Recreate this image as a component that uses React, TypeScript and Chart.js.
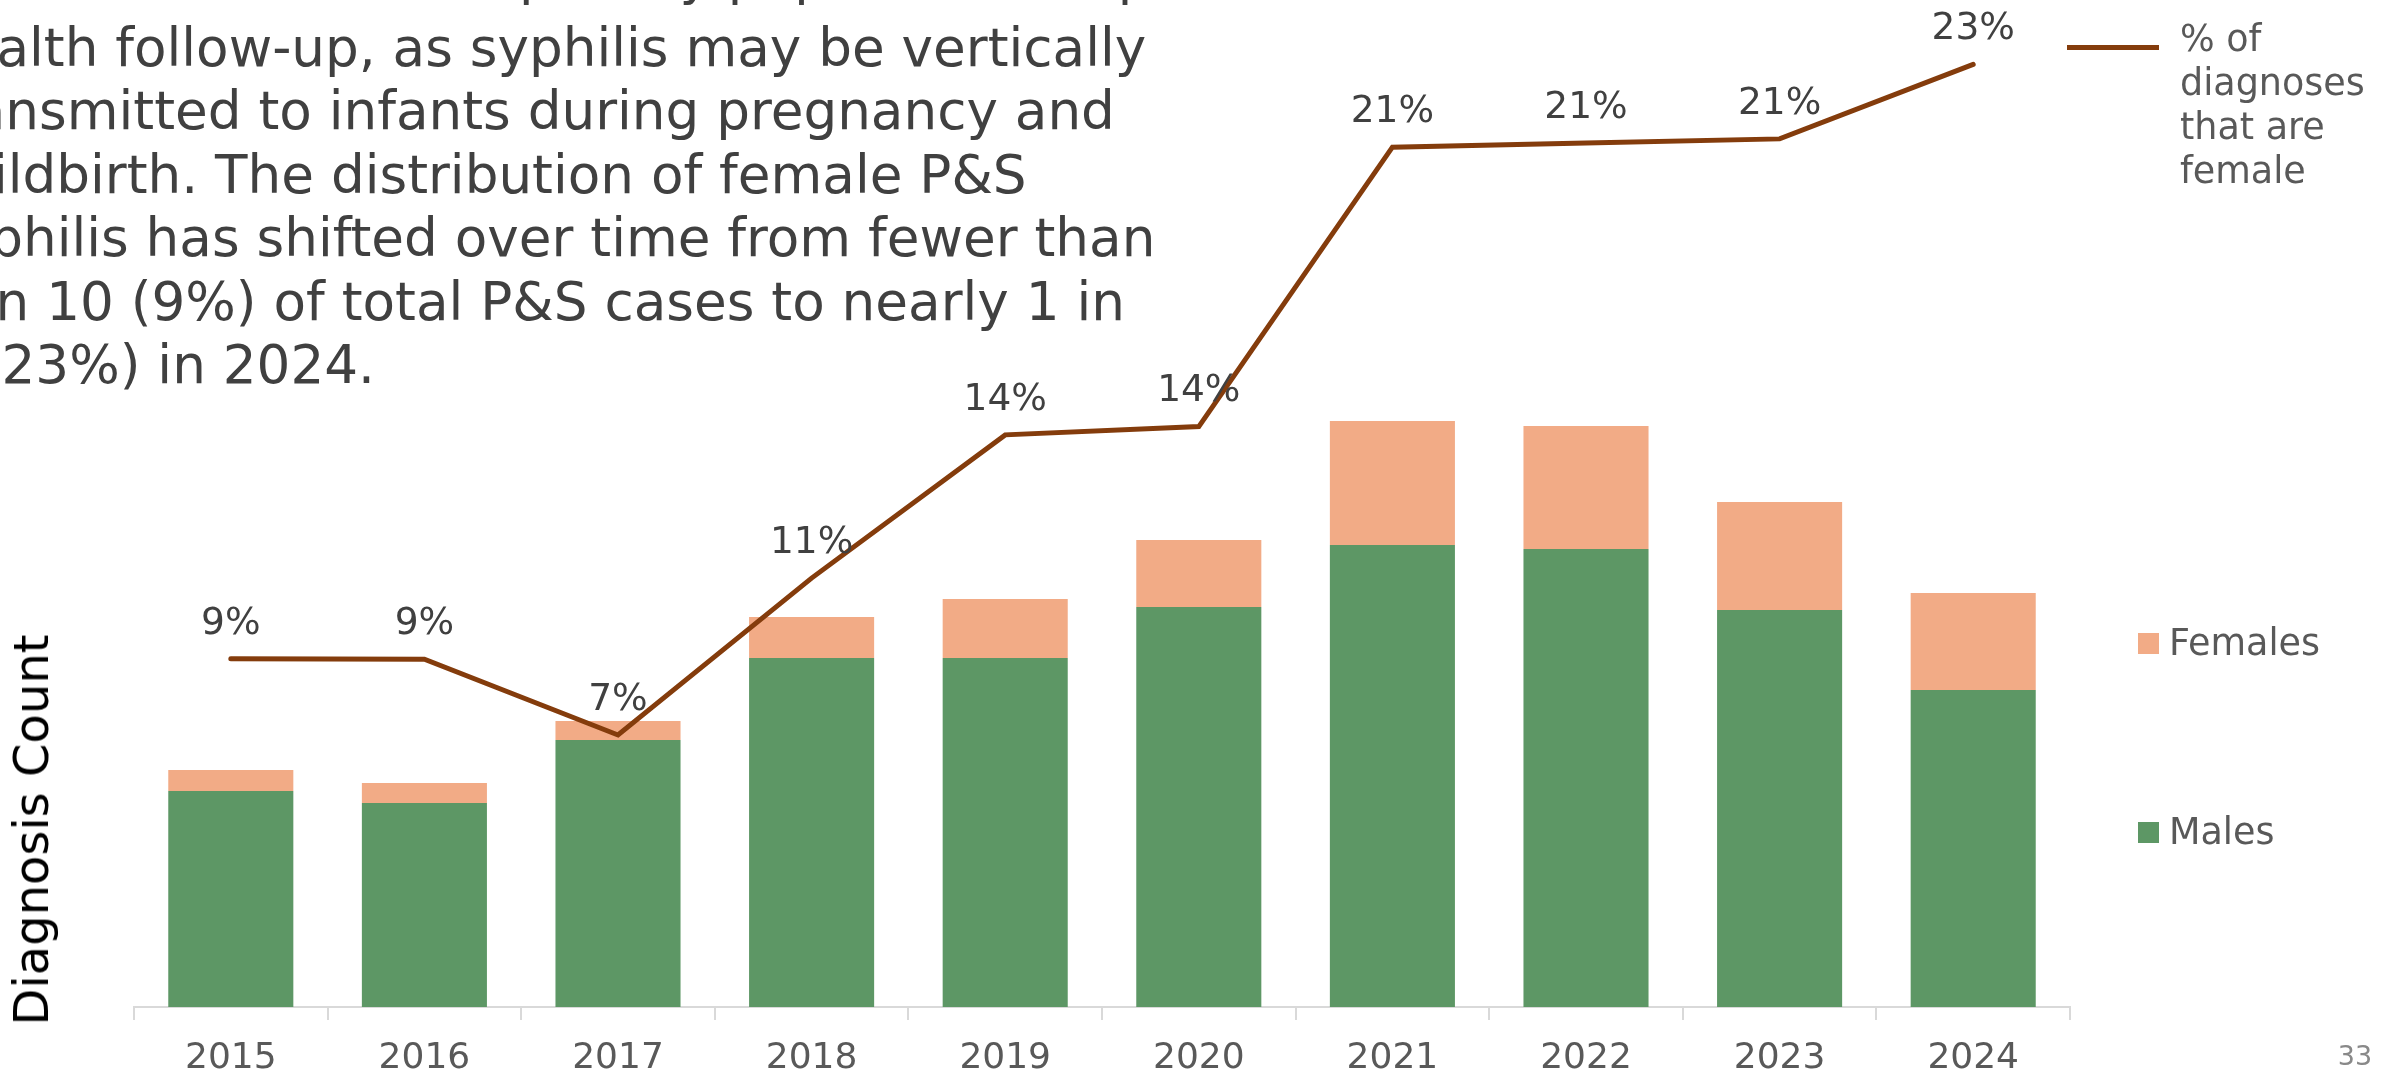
import React, { useEffect, useRef } from "react";
import { Chart, registerables } from "chart.js";

Chart.register(...registerables);

// ---- Data ----
const years = ["2015", "2016", "2017", "2018", "2019", "2020", "2021", "2022", "2023", "2024"];
const males = [216, 204, 267, 349, 349, 400, 462, 458, 397, 317];
const females = [21, 20, 19, 41, 59, 67, 124, 123, 108, 97];
const femalePct = [8.84, 8.83, 7.0, 10.79, 14.25, 14.45, 21.2, 21.3, 21.4, 23.2];

const maleLabel = "Males";
const femaleLabel = "Females";
const pctLegendLines = ["% of", "diagnoses", "that are", "female"];
const yAxisTitle = "Diagnosis Count";
const pageNumber = "33";

const countAxisMax = 977;
const pctAxisMin = 0.43;
const pctAxisMax = 24.03;

const paragraphLines = [
  "health follow-up, as syphilis may be vertically",
  "transmitted to infants during pregnancy and",
  "childbirth. The distribution of female P&S",
  "syphilis has shifted over time from fewer than",
  "1 in 10 (9%) of total P&S cases to nearly 1 in",
  "4 (23%) in 2024.",
];
const paragraphTopFragment = "priority population for public";

// ---- Colors ----
const GREEN = "#5D9765";
const PEACH = "#F2AB86";
const BROWN = "#843C0C";
const FONT = '"DejaVu Sans", Verdana, sans-serif';

const lineLabelPlugin = {
  id: "lineLabels",
  afterDatasetsDraw(chart: any) {
    const ctx = chart.ctx;
    chart.data.datasets.forEach((ds: any, di: number) => {
      if (ds.type !== "line") return;
      const meta = chart.getDatasetMeta(di);
      ctx.save();
      ctx.font = `37.5px ${FONT}`;
      ctx.fillStyle = "#404040";
      ctx.textAlign = "center";
      ctx.textBaseline = "middle";
      meta.data.forEach((pt: any, i: number) => {
        ctx.fillText(Math.round(ds.data[i]) + "%", pt.x, pt.y - 35);
      });
      ctx.restore();
    });
  },
};

export default function App() {
  const canvasRef = useRef<HTMLCanvasElement | null>(null);

  useEffect(() => {
    if (!canvasRef.current) return;
    Chart.defaults.font.family = FONT;
    const chart = new Chart(canvasRef.current, {
      type: "bar",
      data: {
        labels: years,
        datasets: [
          {
            type: "line",
            label: "% of diagnoses that are female",
            data: femalePct,
            yAxisID: "y1",
            borderColor: BROWN,
            backgroundColor: BROWN,
            borderWidth: 5,
            pointRadius: 0,
            tension: 0,
            borderCapStyle: "round",
            borderJoinStyle: "miter",
            order: 0,
          } as any,
          {
            type: "bar",
            label: maleLabel,
            data: males,
            backgroundColor: GREEN,
            yAxisID: "y",
            barPercentage: 0.646,
            categoryPercentage: 1,
            order: 1,
          },
          {
            type: "bar",
            label: femaleLabel,
            data: females,
            backgroundColor: PEACH,
            yAxisID: "y",
            barPercentage: 0.646,
            categoryPercentage: 1,
            order: 2,
          },
        ],
      },
      options: {
        responsive: false,
        animation: false,
        devicePixelRatio: 1,
        layout: { padding: { left: 134, right: 322, top: 30, bottom: 0 } },
        plugins: {
          legend: { display: false },
          tooltip: { enabled: false },
        },
        scales: {
          x: {
            stacked: true,
            offset: true,
            grid: {
              display: true,
              drawOnChartArea: false,
              drawTicks: true,
              tickLength: 13,
              color: "#d9d9d9",
              lineWidth: 2,
              offset: true,
            },
            border: { display: true, color: "#d9d9d9", width: 2 },
            ticks: {
              color: "#595959",
              font: { size: 36, family: FONT },
              padding: 17,
              maxRotation: 0,
              autoSkip: false,
            },
            afterFit: (s: any) => {
              s.height = 68;
            },
          },
          y: { stacked: true, display: false, min: 0, max: countAxisMax },
          y1: { display: false, position: "right", min: pctAxisMin, max: pctAxisMax },
        },
      } as any,
      plugins: [lineLabelPlugin],
    });
    return () => chart.destroy();
  }, []);

  const legendText: React.CSSProperties = {
    position: "absolute",
    fontFamily: FONT,
    fontSize: 36.5,
    color: "#595959",
    whiteSpace: "nowrap",
    lineHeight: "44px",
  };

  return (
    <div
      style={{
        position: "fixed",
        left: 0,
        top: 0,
        width: 2392,
        height: 1075,
        overflow: "hidden",
        background: "#fff",
      }}
    >
      <canvas
        ref={canvasRef}
        width={2392}
        height={1075}
        style={{ position: "absolute", left: 0, top: 0, width: 2392, height: 1075 }}
      />
      {/* paragraph */}
      <div
        style={{
          position: "absolute",
          left: -70,
          top: -47,
          fontFamily: FONT,
          fontSize: 53.2,
          lineHeight: "63.5px",
          color: "#404040",
          whiteSpace: "nowrap",
        }}
      >
        <div style={{ paddingLeft: 589, position: "relative", top: -8 }}>{paragraphTopFragment}</div>
        {paragraphLines.map((l, i) => (
          <div key={i}>{l}</div>
        ))}
      </div>
      {/* y axis title */}
      <div
        style={{
          position: "absolute",
          left: 31,
          top: 830,
          transform: "translate(-50%, -50%) rotate(-90deg)",
          fontFamily: FONT,
          fontSize: 48,
          lineHeight: 1,
          color: "#000",
          whiteSpace: "nowrap",
        }}
      >
        {yAxisTitle}
      </div>
      {/* line legend */}
      <div style={{ position: "absolute", left: 2067, top: 45, width: 92, height: 5, background: BROWN }} />
      <div style={{ ...legendText, left: 2180, top: 17 }}>
        {pctLegendLines.map((l, i) => (
          <div key={i}>{l}</div>
        ))}
      </div>
      {/* bar legends */}
      <div style={{ position: "absolute", left: 2138, top: 633, width: 21, height: 21, background: PEACH }} />
      <div style={{ ...legendText, left: 2169, top: 643 - 22 }}>{femaleLabel}</div>
      <div style={{ position: "absolute", left: 2138, top: 822, width: 21, height: 21, background: GREEN }} />
      <div style={{ ...legendText, left: 2169, top: 832 - 22 }}>{maleLabel}</div>
      {/* page number */}
      <div
        style={{
          position: "absolute",
          left: 2355,
          top: 1055,
          transform: "translate(-50%, -50%)",
          fontFamily: FONT,
          fontSize: 27,
          color: "#898989",
          lineHeight: 1,
        }}
      >
        {pageNumber}
      </div>
    </div>
  );
}
